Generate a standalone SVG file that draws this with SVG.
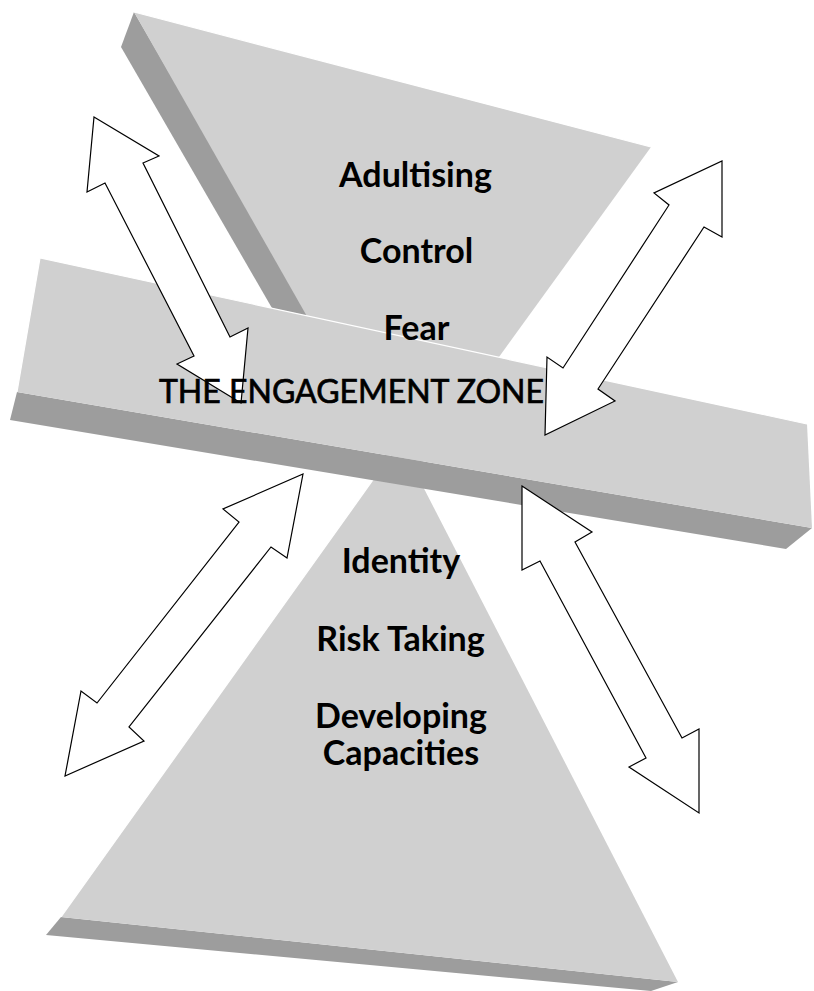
<svg xmlns="http://www.w3.org/2000/svg" width="814" height="991" viewBox="0 0 814 991">
  <style>
    .top { fill: #d0d0d0; }
    .side { fill: #9d9d9d; }
    .hl { fill: none; stroke: #ffffff; stroke-width: 1.2; }
    .arrow { fill: #ffffff; stroke: #000000; stroke-width: 1.2; stroke-linejoin: miter; }
    .lbl { font-family: Lato, "Open Sans", "Liberation Sans", sans-serif; font-size: 34px; font-weight: bold; fill: #000000; text-anchor: middle; }
    .caps { font-size: 32px; font-weight: normal; stroke: #000000; stroke-width: 0.7; }
  </style>
  <rect width="814" height="991" fill="#ffffff"/>

  <g id="top-triangle">
    <polygon class="side" points="134,12 121,47 302,360 336,360"/>
    <polygon class="top" points="134,12 651,147 410,480 400,480"/>
    <polyline class="hl" points="134,12 651,147"/>
  </g>

  <g id="bottom-triangle">
    <polygon class="side" points="61,917 678,982 651,991 46,935"/>
    <polygon class="top" points="400,442 678,982 61,917"/>
    <polyline class="hl" points="400,442 61,917"/>
  </g>

  <g id="engagement-bar">
    <polygon class="side" points="17,392 812,528 786,549 10,420"/>
    <polygon class="top" points="40,258 807,424 812,528 17,392"/>
    <polyline class="hl" points="17,392 40,258 807,424"/>
  </g>

  <g id="connectors">
    <polygon id="arrow-top-left" class="arrow" points="94,117 159,156 143,163 230,337 248,328 241,403 177,364 194,356 105,183 87,192"/>
    <polygon id="arrow-bottom-left" class="arrow" points="303,474 287,558 271,547 129,727 144,741 65,776 81,691 97,703 239,522 223,509"/>
    <polygon id="arrow-bottom-right" class="arrow" points="522,486 592,532 575,542 682,738 699,729 699,813 629,767 646,758 540,561 522,570"/>
  </g>

  <g id="labels-top">
    <text class="lbl" x="415.5" y="187">Adultising</text>
    <text class="lbl" x="416.5" y="263">Control</text>
    <text class="lbl" x="416.5" y="340">Fear</text>
  </g>

  <g id="engagement-label">
    <text class="lbl caps" x="351.5" y="403">THE ENGAGEMENT ZONE</text>
  </g>

  <g id="connectors-2">
    <polygon id="arrow-top-right" class="arrow" points="722,161 722,237 704,227 598,389 615,401 545,435 547,357 563,368 669,205 654,193"/>
  </g>

  <g id="labels-bottom">
    <text class="lbl" x="401" y="573">Identity</text>
    <text class="lbl" x="400.5" y="651">Risk Taking</text>
    <text class="lbl" x="401" y="728">Developing</text>
    <text class="lbl" x="401" y="765">Capacities</text>
  </g>
</svg>
